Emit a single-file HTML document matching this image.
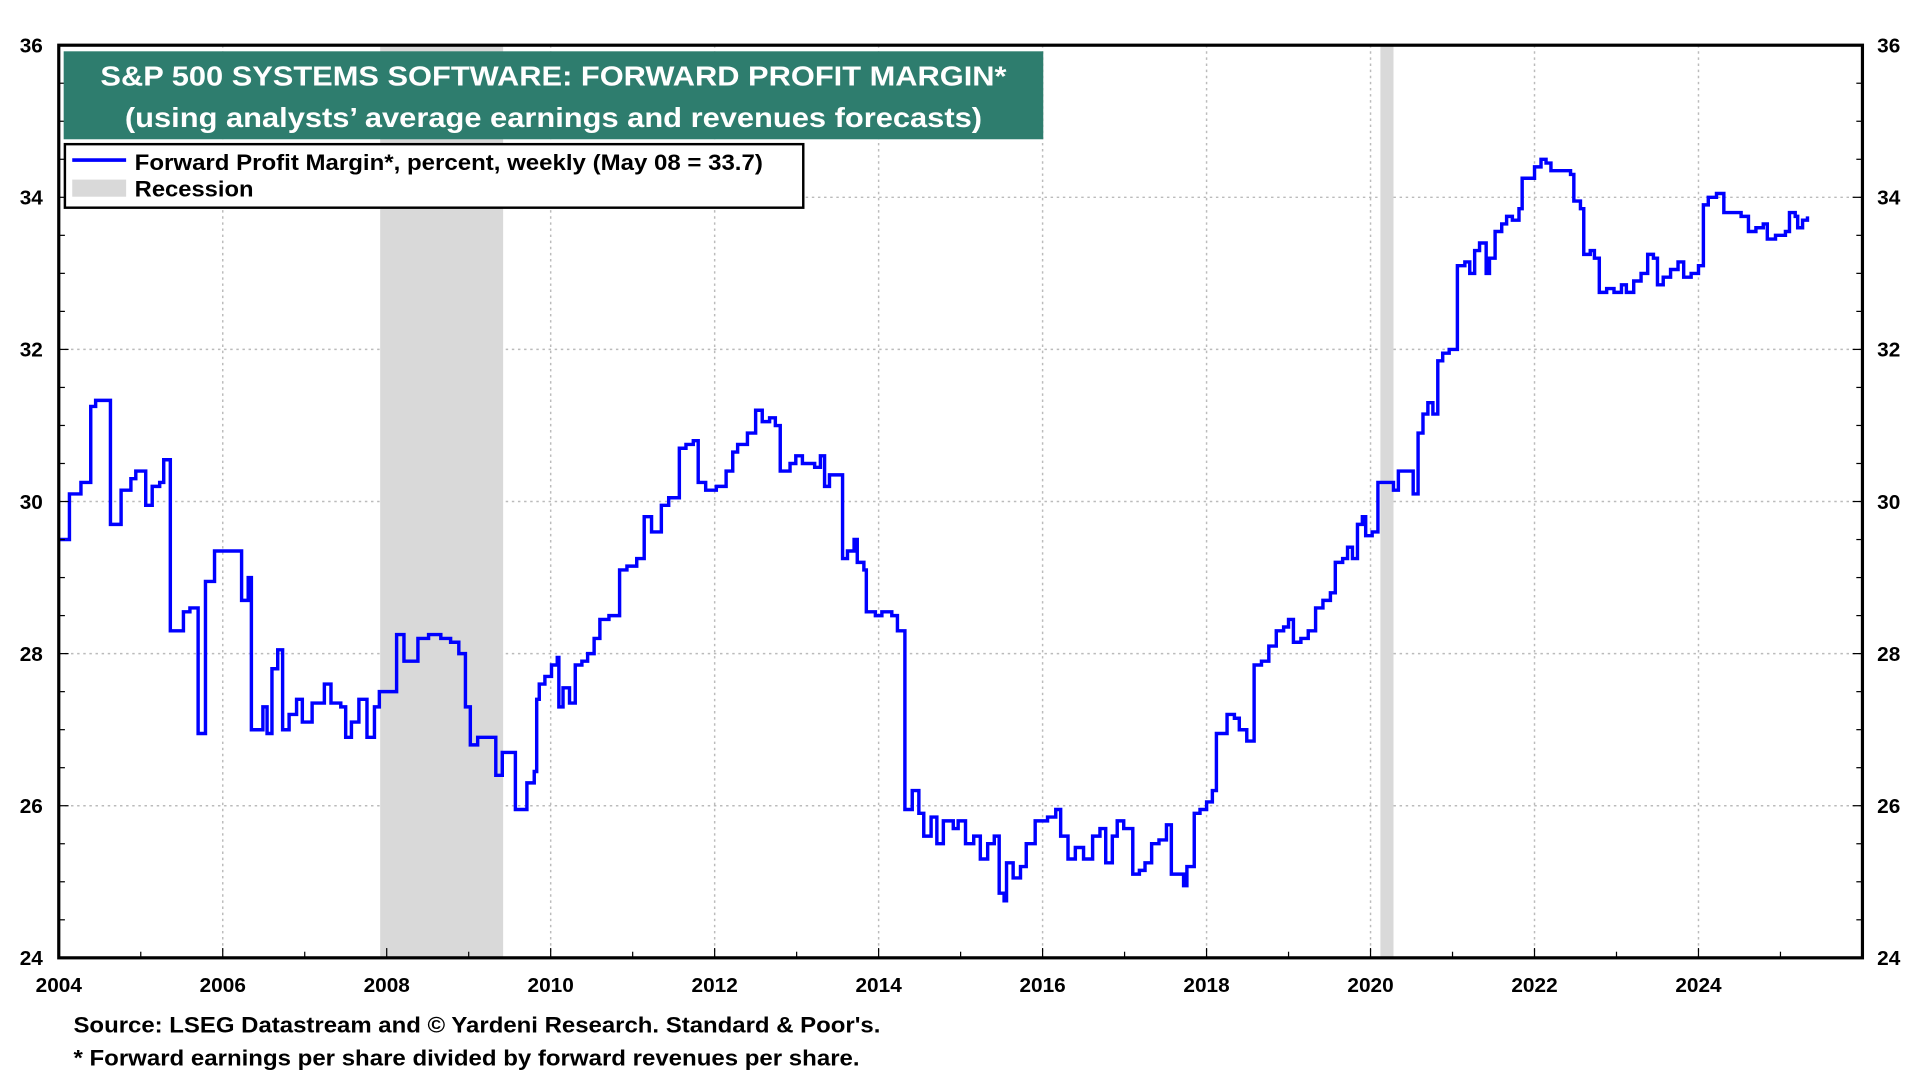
<!DOCTYPE html>
<html><head><meta charset="utf-8"><style>
html,body{margin:0;padding:0;background:#fff;}
svg{display:block;font-family:"Liberation Sans",Arial,sans-serif;font-weight:bold;}
</style></head><body>
<svg id="chart" width="1920" height="1080" viewBox="0 0 1568 884" preserveAspectRatio="none" xmlns="http://www.w3.org/2000/svg">
<g id="grid"></g>
<g id="recessions"></g>
<path id="line" fill="none" stroke="#0000ff" stroke-width="2.8" stroke-linejoin="miter"/>
<rect x="48" y="37" width="1473" height="747" fill="none" stroke="#000" stroke-width="2.6"/>
<g id="axes"></g>
<g>
<rect x="52" y="42" width="800" height="72" fill="#2e7d6e"/>
<text x="82" y="70" fill="#fff" font-size="23" textLength="740" lengthAdjust="spacingAndGlyphs">S&amp;P 500 SYSTEMS SOFTWARE: FORWARD PROFIT MARGIN*</text>
<text x="102" y="104" fill="#fff" font-size="23" textLength="700" lengthAdjust="spacingAndGlyphs">(using analysts’ average earnings and revenues forecasts)</text>
</g>
<g>
<rect x="53" y="118" width="603" height="52" fill="#fff" stroke="#000" stroke-width="2"/>
<line x1="59" y1="131" x2="103" y2="131" stroke="#0000ff" stroke-width="3"/>
<text x="110" y="139" font-size="18.5" textLength="513" lengthAdjust="spacingAndGlyphs">Forward Profit Margin*, percent, weekly (May 08 = 33.7)</text>
<rect x="59" y="147" width="44" height="14" fill="#d9d9d9"/>
<text x="110" y="161" font-size="18.5" textLength="97" lengthAdjust="spacingAndGlyphs">Recession</text>
</g>
<text x="60" y="845" font-size="18.5" textLength="659" lengthAdjust="spacingAndGlyphs">Source: LSEG Datastream and © Yardeni Research. Standard &amp; Poor's.</text>
<text x="60" y="872" font-size="18.5" textLength="642" lengthAdjust="spacingAndGlyphs">* Forward earnings per share divided by forward revenues per share.</text>
</svg>
<script>
const dates=[2004.00,2004.13,2004.27,2004.39,2004.45,2004.63,2004.76,2004.88,2004.94,2005.06,2005.14,2005.23,2005.28,2005.36,2005.52,2005.60,2005.70,2005.79,2005.90,2006.12,2006.23,2006.31,2006.35,2006.49,2006.54,2006.60,2006.67,2006.73,2006.81,2006.90,2006.97,2007.09,2007.24,2007.32,2007.44,2007.50,2007.57,2007.66,2007.76,2007.85,2007.91,2008.03,2008.12,2008.21,2008.32,2008.38,2008.51,2008.66,2008.78,2008.88,2008.96,2009.02,2009.11,2009.26,2009.33,2009.41,2009.53,2009.57,2009.71,2009.80,2009.83,2009.86,2009.93,2010.01,2010.08,2010.10,2010.15,2010.23,2010.30,2010.38,2010.45,2010.53,2010.60,2010.71,2010.84,2010.93,2011.05,2011.14,2011.23,2011.35,2011.44,2011.57,2011.65,2011.74,2011.80,2011.89,2012.02,2012.14,2012.22,2012.28,2012.40,2012.50,2012.58,2012.67,2012.74,2012.80,2012.92,2012.99,2013.07,2013.14,2013.22,2013.29,2013.34,2013.40,2013.50,2013.56,2013.62,2013.70,2013.74,2013.82,2013.85,2013.96,2014.04,2014.16,2014.23,2014.32,2014.41,2014.49,2014.55,2014.64,2014.71,2014.79,2014.91,2014.97,2015.06,2015.16,2015.24,2015.33,2015.41,2015.47,2015.53,2015.56,2015.64,2015.73,2015.80,2015.91,2016.06,2016.16,2016.22,2016.31,2016.40,2016.50,2016.61,2016.70,2016.77,2016.85,2016.91,2016.99,2017.10,2017.18,2017.25,2017.33,2017.42,2017.51,2017.57,2017.66,2017.72,2017.76,2017.85,2017.92,2018.00,2018.07,2018.12,2018.19,2018.25,2018.34,2018.40,2018.49,2018.58,2018.67,2018.76,2018.85,2018.94,2019.00,2019.06,2019.15,2019.24,2019.33,2019.42,2019.51,2019.57,2019.66,2019.72,2019.78,2019.84,2019.90,2019.94,2020.02,2020.09,2020.20,2020.28,2020.34,2020.46,2020.52,2020.58,2020.64,2020.70,2020.76,2020.82,2020.88,2020.96,2021.06,2021.15,2021.21,2021.27,2021.33,2021.41,2021.45,2021.52,2021.60,2021.66,2021.73,2021.81,2021.85,2021.93,2022.00,2022.08,2022.14,2022.20,2022.33,2022.44,2022.48,2022.56,2022.60,2022.68,2022.73,2022.79,2022.88,2022.97,2023.06,2023.12,2023.21,2023.30,2023.38,2023.45,2023.50,2023.57,2023.66,2023.75,2023.82,2023.91,2024.00,2024.06,2024.12,2024.22,2024.31,2024.40,2024.52,2024.61,2024.70,2024.79,2024.84,2024.94,2025.06,2025.11,2025.18,2025.21,2025.27,2025.33];
const margins=[29.5,30.1,30.25,31.25,31.33,29.7,30.15,30.3,30.4,29.95,30.2,30.25,30.55,28.3,28.55,28.6,26.95,28.95,29.35,29.35,28.7,29.0,27.0,27.3,26.95,27.8,28.05,27.0,27.2,27.4,27.1,27.35,27.6,27.35,27.3,26.9,27.1,27.4,26.9,27.3,27.5,27.5,28.25,27.9,27.9,28.2,28.25,28.2,28.15,28.0,27.3,26.8,26.9,26.9,26.4,26.7,26.7,25.95,26.3,26.45,27.4,27.6,27.7,27.85,27.95,27.3,27.55,27.35,27.85,27.9,28.0,28.2,28.45,28.5,29.1,29.15,29.25,29.8,29.6,29.95,30.05,30.7,30.75,30.8,30.25,30.15,30.2,30.4,30.65,30.75,30.9,31.2,31.05,31.1,31.0,30.4,30.5,30.6,30.5,30.5,30.45,30.6,30.2,30.35,30.35,29.25,29.35,29.5,29.2,29.1,28.55,28.5,28.55,28.5,28.3,25.95,26.2,25.9,25.6,25.85,25.5,25.8,25.7,25.8,25.5,25.6,25.3,25.5,25.6,24.85,24.75,25.25,25.05,25.2,25.5,25.8,25.85,25.95,25.6,25.3,25.45,25.3,25.6,25.7,25.25,25.6,25.8,25.7,25.1,25.15,25.25,25.5,25.55,25.75,25.1,25.1,24.95,25.2,25.9,25.95,26.05,26.2,26.95,26.95,27.2,27.15,27.0,26.85,27.85,27.9,28.1,28.3,28.35,28.45,28.15,28.2,28.3,28.6,28.7,28.8,29.2,29.25,29.4,29.25,29.7,29.8,29.55,29.6,30.25,30.25,30.15,30.4,30.4,30.1,30.9,31.15,31.3,31.15,31.85,31.95,32.0,33.1,33.15,33.0,33.3,33.4,33.0,33.2,33.55,33.65,33.75,33.7,33.85,34.25,34.25,34.4,34.5,34.45,34.35,34.35,34.3,33.95,33.85,33.25,33.3,33.2,32.75,32.8,32.75,32.85,32.75,32.9,33.0,33.25,33.2,32.85,32.95,33.05,33.15,32.95,33.0,33.1,33.9,34.0,34.05,33.8,33.8,33.75,33.55,33.6,33.65,33.45,33.5,33.55,33.8,33.75,33.6,33.7,33.75];
const recessionStarts=[2007.92,2020.12];
const recessionEnds=[2009.42,2020.28];
const yTicks=[24,26,28,30,32,34,36];
const xTickYears=[2004,2006,2008,2010,2012,2014,2016,2018,2020,2022,2024];

const L=48,R=1521,T=37,B=784;
const x0=2004,x1=2026.0,y0=24,y1=36;
const sx=v=>L+(v-x0)/(x1-x0)*(R-L);
const sy=v=>B-(v-y0)/(y1-y0)*(B-T);
const NS='http://www.w3.org/2000/svg';
function mk(tag,attrs,parent,text){const e=document.createElementNS(NS,tag);for(const k in attrs)e.setAttribute(k,attrs[k]);if(text!==undefined)e.textContent=text;parent.appendChild(e);return e;}
const grid=document.getElementById('grid'),axes=document.getElementById('axes'),rec=document.getElementById('recessions');
yTicks.forEach(v=>{
  if(v>y0&&v<y1){const g=mk('line',{x1:L,x2:R,y1:sy(v),y2:sy(v),stroke:'#bbb','stroke-width':1.2,'stroke-dasharray':'2,3'},grid);
  
  }
  const t1=mk('text',{x:35,y:sy(v)+6,'text-anchor':'end','font-size':17},axes,String(v));
  
  
  const t2=mk('text',{x:1533,y:sy(v)+6,'text-anchor':'start','font-size':17},axes,String(v));
  
  
});
for(let v=y0;v<=y1;v+=0.5){const y=sy(v);const big=(v%2===0);
  mk('line',{x1:L,x2:L+(big?8:5),y1:y,y2:y,stroke:'#000','stroke-width':1},axes);
  mk('line',{x1:R,x2:R-(big?8:5),y1:y,y2:y,stroke:'#000','stroke-width':1},axes);}
for(let yr=2004;yr<=2026;yr++){const x=sx(yr);mk('line',{x1:x,x2:x,y1:B,y2:B-(yr%2===0?8:5),stroke:'#000','stroke-width':1},axes);}
xTickYears.forEach(yr=>{
  if(yr>x0){const g=mk('line',{x1:sx(yr),x2:sx(yr),y1:T,y2:B,stroke:'#bbb','stroke-width':1.2,'stroke-dasharray':'2,3'},grid);
  
  }
  const t=mk('text',{x:sx(yr),y:812,'text-anchor':'middle','font-size':17},axes,String(yr));
  
  
});
recessionStarts.forEach((s,i)=>{
  const r=mk('rect',{x:sx(s),y:T,width:sx(recessionEnds[i])-sx(s),height:B-T,fill:'#d9d9d9'},rec);
  
  
});
let d='M'+sx(dates[0]).toFixed(1)+' '+sy(margins[0]).toFixed(1);
for(let i=1;i<dates.length;i++){d+=' H'+sx(dates[i]).toFixed(1)+' V'+sy(margins[i]).toFixed(1);}
document.getElementById('line').setAttribute('d',d);
</script>
</body></html>
